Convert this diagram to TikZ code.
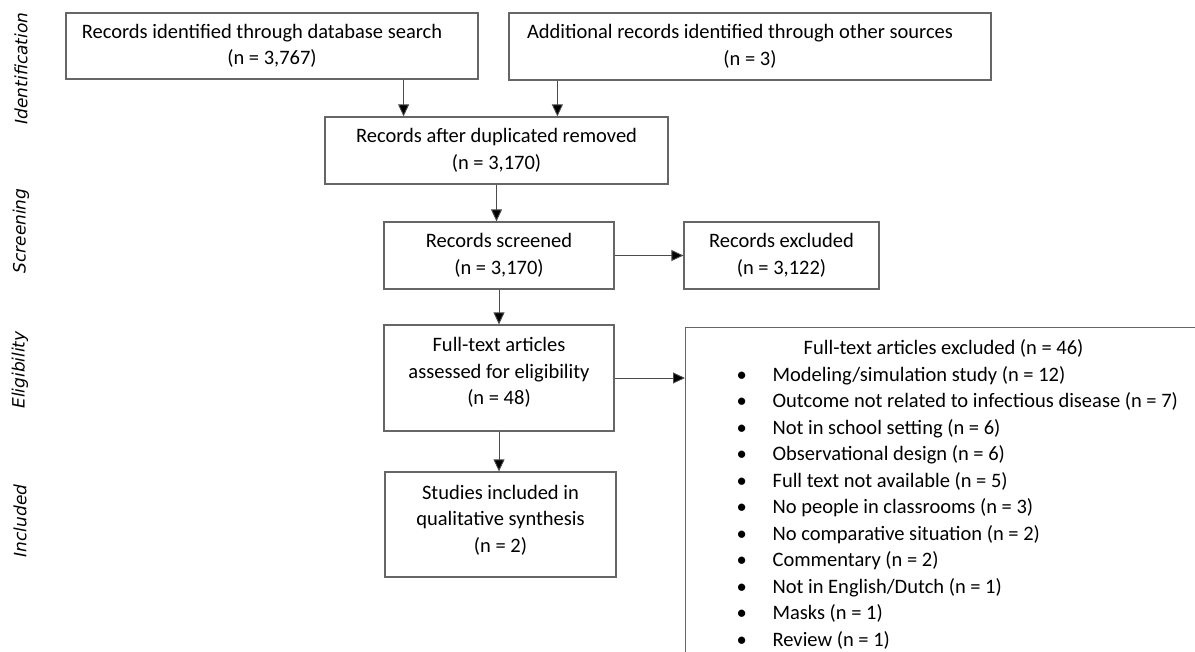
\documentclass[tikz,border=0pt]{standalone}
\usepackage{fontspec}
\setmainfont{Carlito}
\newfontfamily\sidefont{DejaVu Sans}
\usetikzlibrary{arrows.meta}
\newcommand{\topbox}[3]{\parbox[c][#2][t]{#1}{\centering\rule{0pt}{27pt}#3}}

\begin{document}
\begin{tikzpicture}[x=1pt, y=-1pt,
	every node/.style={font=\fontsize{20.5}{26.5}\selectfont},
	box/.style={draw=black!60, line width=1.2pt, inner sep=0pt},
	arr/.style={draw=black!70, line width=0.9pt, -{Triangle[length=12pt, width=11pt, fill=black]}},
	phase/.style={rotate=90, font=\sidefont\itshape\fontsize{17}{20}\selectfont}]
	\useasboundingbox (0, 0) rectangle (1195, 652);
	% Phase labels on the left
	\node[phase] (ident) at (21, 68.5) {Identification};
	\node[phase] (screen) at (21, 231) {Screening};
	\node[phase] (elig) at (20, 370) {Eligibility};
	\node[phase] (incl) at (20, 521) {Included};

	% Define the boxes with specific positions
	\node[box, align=center, minimum width=412pt, minimum height=66pt] (dbsearch) at (272, 46) {Records identified through database search\hspace*{20pt}\\(n = 3,767)};
	\node[box, align=center, minimum width=482pt, minimum height=67pt] (other) at (750, 46.5) {Additional records identified through other sources\hspace*{20pt}\\(n = 3)};
	\node[box, align=center, minimum width=343pt, minimum height=67pt] (dedup) at (496.5, 150.5) {Records after duplicated removed\\(n = 3,170)};
	\node[box, align=center, minimum width=230pt, minimum height=67pt] (screened) at (499, 255.5) {Records screened\\(n = 3,170)};
	\node[box, align=center, minimum width=195pt, minimum height=67pt] (excluded) at (781.5, 255.5) {Records excluded\\(n = 3,122)};
	\node[box] (fulltext) at (499, 378) {\topbox{230pt}{106pt}{Full-text articles\\assessed for eligibility\\(n = 48)}};
	\node[box] (included) at (500.5, 524.5) {\topbox{231pt}{105pt}{Studies included in\\qualitative synthesis\\(n = 2)}};
	\node[box, anchor=north west] (ftexcl) at (685, 327) {\topbox{516pt}{345pt}{Full-text articles excluded (n = 46)\par
		\raggedright\leftskip=51pt
		\makebox[36pt][l]{\textbullet}Modeling/simulation study (n = 12)\\
		\makebox[36pt][l]{\textbullet}Outcome not related to infectious disease (n = 7)\\
		\makebox[36pt][l]{\textbullet}Not in school setting (n = 6)\\
		\makebox[36pt][l]{\textbullet}Observational design (n = 6)\\
		\makebox[36pt][l]{\textbullet}Full text not available (n = 5)\\
		\makebox[36pt][l]{\textbullet}No people in classrooms (n = 3)\\
		\makebox[36pt][l]{\textbullet}No comparative situation (n = 2)\\
		\makebox[36pt][l]{\textbullet}Commentary (n = 2)\\
		\makebox[36pt][l]{\textbullet}Not in English/Dutch (n = 1)\\
		\makebox[36pt][l]{\textbullet}Masks (n = 1)\\
		\makebox[36pt][l]{\textbullet}Review (n = 1)}};

	% Draw the arrows between boxes
	\draw[arr] ([xshift=-75pt]dbsearch.south east) -- ([xshift=-75pt]dbsearch.south east |- dedup.north);
	\draw[arr] ([xshift=49pt]other.south west) -- ([xshift=49pt]other.south west |- dedup.north);
	\draw[arr] (dedup.south) -- (dedup.south |- screened.north);
	\draw[arr] (screened) -- (excluded);
	\draw[arr] (screened.south) -- (fulltext.north);
	\draw[arr] (fulltext.east) -- (fulltext.east -| ftexcl.west);
	\draw[arr] (fulltext.south) -- (fulltext.south |- included.north);
\end{tikzpicture}
\end{document}
